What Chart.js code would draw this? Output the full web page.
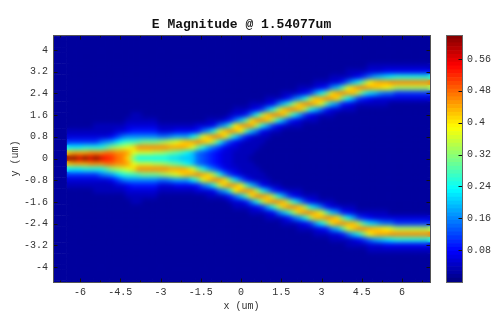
<!DOCTYPE html>
<html>
<head>
<meta charset="utf-8">
<script src="https://cdn.jsdelivr.net/npm/chart.js@4/dist/chart.umd.js"></script>
<style>
  body { margin: 0; background: #fff; }
  canvas { position: absolute; left: 0; top: 0; }
</style>
</head>
<body>
<canvas id="field-chart" width="500" height="326"></canvas>
<canvas id="colorbar-chart" width="500" height="326"></canvas>
<script>
// values
const xCells = [];   // um, one per column of magnitudeRows
for (let i = 0; i <= 70; i++) xCells.push(Math.round((-7 + i * 0.2) * 10) / 10);
const yCells = [];   // um, one per row of magnitudeRows
for (let i = 0; i <= 46; i++) yCells.push(Math.round((4.6 - i * 0.2) * 10) / 10);

// |E| per cell, one base-36 digit per column, in steps of levelStep
const levelStep = 0.62 / 35;
const magnitudeRows = [
  '1111111111 1111111111 1111111111 1111111111 1111111111 1111111111 11111111111',
  '1111111111 1111111111 1111111111 1111111111 1111111111 1111111111 11111111111',
  '1111111111 1111111111 1111111111 1111111111 1111111111 1111111111 11111111111',
  '1111111111 1111111111 1111111111 1111111111 1111111111 1111111111 11111111111',
  '1111111111 1111111111 1111111111 1111111111 1111111111 1111111111 11111111111',
  '1111111111 1111111111 1111111111 1111111111 1111111111 1111111111 11111111111',
  '1111111111 1111111111 1111111111 1111111111 1111111111 1111111112 22222222222',
  '1111111111 1111111111 1111111111 1111111111 1111111111 1111122223 33444444444',
  '1111111111 1111111111 1111111111 1111111111 1111111111 1122223468 abcdeeeeeee',
  '1111111111 1111111111 1111111111 1111111111 1111111112 223358beim oppqqqqqqqq',
  '1111111111 1111111111 1111111111 1111111111 1111112223 459bgloqqp onmljjjjjjj',
  '1111111111 1111111111 1111111111 1111111111 111222346a dhnpqpojfc b9886666666',
  '1111111111 1111111111 1111111111 1111111111 222358aejo pqpnhda654 33333333333',
  '1111111111 1111111111 1111111111 1111111222 348bfjoqqo lgb9543222 22211111111',
  '1111111111 1111111111 1111111111 1111222346 aejoqqojeb 8533222111 11111111111',
  '1111111111 1111122111 1111111111 11123359ej oqqoiea643 2221111111 11111111111',
  '1111111111 1111222222 1111111112 22358bgnqq ojea643222 1111111111 11111111111',
  '1111111122 2222333333 2222222333 48afmpqpje a643222111 1111111111 11111111111',
  '1112222222 2233455555 333444458a ekoqpmgb84 3221111111 1111111111 11111111111',
  '1113333333 3468999999 889aaadglo qqnhc85322 2111111111 1111111111 11111111111',
  '1116666668 9aceffghhh ijklnopqpn je96432222 1111111111 1111111111 11111111111',
  '111dddeeee gijklnqqqq qqpppolhea 8643322221 1111111111 1111111111 11111111111',
  '111opppqqq rrqqplkkkj jihgfdb876 5433222211 1111111111 1111111111 11111111111',
  '111yzwzwzw utrqnhdddd ddccbbb876 5433222111 1111111111 1111111111 11111111111',
  '111opppqqq rrqqplkkkj jihgfdb876 5433222211 1111111111 1111111111 11111111111',
  '111dddeeee gijklnqqqq qqpppolhea 8643322221 1111111111 1111111111 11111111111',
  '1116666668 9aceffghhh ijklnopqpn je96432222 1111111111 1111111111 11111111111',
  '1113333333 3468999999 889aaadglo qqnhc85322 2111111111 1111111111 11111111111',
  '1112222222 2233455555 333444458a ekoqpmgb84 3221111111 1111111111 11111111111',
  '1111111122 2222333333 2222222333 48afmpqpje a643222111 1111111111 11111111111',
  '1111111111 1111222222 1111111112 22358bgnqq ojea643222 1111111111 11111111111',
  '1111111111 1111122111 1111111111 11123359ej oqqoiea643 2221111111 11111111111',
  '1111111111 1111111111 1111111111 1111222346 aejoqqojeb 8533222111 11111111111',
  '1111111111 1111111111 1111111111 1111111222 348bfjoqqo lgb9543222 22211111111',
  '1111111111 1111111111 1111111111 1111111111 222358aejo pqpnhda654 33333333333',
  '1111111111 1111111111 1111111111 1111111111 111222346a dhnpqpojfc b9886666666',
  '1111111111 1111111111 1111111111 1111111111 1111112223 459bgloqqp onmljjjjjjj',
  '1111111111 1111111111 1111111111 1111111111 1111111112 223358beim oppqqqqqqqq',
  '1111111111 1111111111 1111111111 1111111111 1111111111 1122223468 abcdeeeeeee',
  '1111111111 1111111111 1111111111 1111111111 1111111111 1111122223 33444444444',
  '1111111111 1111111111 1111111111 1111111111 1111111111 1111111112 22222222222',
  '1111111111 1111111111 1111111111 1111111111 1111111111 1111111111 11111111111',
  '1111111111 1111111111 1111111111 1111111111 1111111111 1111111111 11111111111',
  '1111111111 1111111111 1111111111 1111111111 1111111111 1111111111 11111111111',
  '1111111111 1111111111 1111111111 1111111111 1111111111 1111111111 11111111111',
  '1111111111 1111111111 1111111111 1111111111 1111111111 1111111111 11111111111',
  '1111111111 1111111111 1111111111 1111111111 1111111111 1111111111 11111111111'
];

const xMajorTicks = [-6, -4.5, -3, -1.5, 0, 1.5, 3, 4.5, 6];
const xMinorTicks = [-6.75, -5.25, -3.75, -2.25, -0.75, 0.75, 2.25, 3.75, 5.25, 6.75];
const yTicks = [-4, -3.2, -2.4, -1.6, -0.8, 0, 0.8, 1.6, 2.4, 3.2, 4];
const colorbarTicks = [0.08, 0.16, 0.24, 0.32, 0.4, 0.48, 0.56];

const monoFont = '"Liberation Mono", monospace';
const inkColor = '#333';
const frameColor = '#555';

Chart.defaults.animation = false;
Chart.defaults.events = [];

// matlab jet, 0..0.62
function jet(v) {
  const t = Math.min(1, Math.max(0, v / 0.62));
  const c = (k) => Math.round(255 * Math.min(1, Math.max(0, 1.5 - Math.abs(4 * t - k))));
  return `rgb(${c(3)},${c(2)},${c(1)})`;
}

// build the cells
const fieldCells = [];
const stripCells = [];   // left of x = -6.5 there is no field, edge stays sharp
magnitudeRows.forEach((row, r) => {
  const digits = row.replace(/ /g, '');
  xCells.forEach((x, c) => {
    const cell = { x: x, y: yCells[r], v: parseInt(digits[c] || '1', 36) * levelStep };
    (x < -6.5 ? stripCells : fieldCells).push(cell);
  });
});

function cellDataset(label, cells, order) {
  return {
    label: label,
    data: cells,
    order: order,
    showLine: false,
    pointStyle: 'rect',
    pointRadius: 4.2,
    pointBorderWidth: 0,
    pointBackgroundColor: cells.map(c => jet(c.v))
  };
}

// smooth the blocks of the field, like the interpolated original
const smoothField = {
  id: 'smoothField',
  afterDatasetDraw(chart, args) {
    if (args.index !== 0) return;
    const a = chart.chartArea;
    const ctx = chart.ctx;
    ctx.save();
    ctx.beginPath();
    ctx.rect(a.left, a.top, a.width, a.height);
    ctx.clip();
    ctx.filter = 'blur(2.6px)';
    ctx.drawImage(chart.canvas, 0, 0);
    ctx.restore();
  }
};

function tickMark(ctx, x0, y0, x1, y1) {
  ctx.moveTo(x0 + 0.5, y0 + 0.5);
  ctx.lineTo(x1 + 0.5, y1 + 0.5);
}

// inward ticks on all four sides and the box
const fieldFrame = {
  id: 'fieldFrame',
  afterDraw(chart) {
    const { ctx, chartArea: a, scales } = chart;
    const l = Math.round(a.left), r = Math.round(a.right), t = Math.round(a.top), b = Math.round(a.bottom);
    ctx.save();
    ctx.strokeStyle = '#111';
    ctx.lineWidth = 1;
    ctx.beginPath();
    xMajorTicks.forEach(v => {
      const x = Math.round(scales.x.getPixelForValue(v));
      tickMark(ctx, x, b, x, b - 4);
      tickMark(ctx, x, t, x, t + 4);
    });
    xMinorTicks.forEach(v => {
      const x = Math.round(scales.x.getPixelForValue(v));
      tickMark(ctx, x, b, x, b - 2);
      tickMark(ctx, x, t, x, t + 2);
    });
    yTicks.forEach(v => {
      const y = Math.round(scales.y.getPixelForValue(v));
      tickMark(ctx, l, y, l + 4, y);
      tickMark(ctx, r, y, r - 4, y);
    });
    ctx.stroke();
    ctx.strokeStyle = frameColor;
    ctx.strokeRect(l + 0.5, t + 0.5, r - l, b - t);
    ctx.restore();
  }
};

new Chart(document.getElementById('field-chart').getContext('2d'), {
  type: 'scatter',
  data: {
    datasets: [
      cellDataset('E magnitude', fieldCells, 2),
      cellDataset('no field', stripCells, 1)
    ]
  },
  plugins: [smoothField, fieldFrame],
  options: {
    responsive: false,
    layout: { padding: { right: 70 } },
    plugins: {
      legend: { display: false },
      tooltip: { enabled: false },
      title: {
        display: true,
        fullSize: false,
        text: 'E Magnitude @ 1.54077um',
        color: '#111',
        font: { family: monoFont, size: 13, weight: 'bold', lineHeight: 1.2 },
        padding: { top: 17, bottom: 2.4 }
      }
    },
    scales: {
      x: {
        type: 'linear',
        min: -7.006,
        max: 7.04,
        afterBuildTicks(scale) { scale.ticks = xMajorTicks.map(v => ({ value: v })); },
        afterFit(scale) { scale.height = 44; },
        grid: { display: false, drawTicks: false },
        border: { display: false },
        ticks: {
          autoSkip: false, maxRotation: 0, padding: 4, color: inkColor,
          font: { family: monoFont, size: 10 },
          callback: v => String(v)
        },
        title: {
          display: true, text: 'x (um)', color: inkColor,
          font: { family: monoFont, size: 10, lineHeight: 1.2 },
          padding: { top: 0, bottom: 14 }
        }
      },
      y: {
        type: 'linear',
        min: -4.553,
        max: 4.553,
        afterBuildTicks(scale) { scale.ticks = yTicks.map(v => ({ value: v })); },
        afterFit(scale) { scale.width = 53; },
        grid: { display: false, drawTicks: false },
        border: { display: false },
        ticks: {
          autoSkip: false, padding: 5, color: inkColor,
          font: { family: monoFont, size: 10 },
          callback: v => String(v)
        },
        title: {
          display: true, text: 'y (um)', color: inkColor,
          font: { family: monoFont, size: 10, lineHeight: 1.2 },
          padding: { top: 9, bottom: 0 }
        }
      }
    }
  }
});

// colorbar
const colorLevels = 64;
const colorbarSets = [];
for (let i = 0; i < colorLevels; i++) {
  const lo = i * 0.62 / colorLevels;
  const hi = (i + 1) * 0.62 / colorLevels;
  colorbarSets.push({
    data: [[lo, hi]],
    backgroundColor: jet((lo + hi) / 2),
    borderWidth: 0,
    grouped: false,
    barPercentage: 1,
    categoryPercentage: 1
  });
}

const colorbarFrame = {
  id: 'colorbarFrame',
  afterDraw(chart) {
    const { ctx, chartArea: a, scales } = chart;
    const l = Math.round(a.left), r = Math.round(a.right), t = Math.round(a.top), b = Math.round(a.bottom);
    ctx.save();
    ctx.strokeStyle = '#111';
    ctx.beginPath();
    colorbarTicks.forEach(v => {
      const y = Math.round(scales.y.getPixelForValue(v));
      tickMark(ctx, r, y, r - 4, y);
    });
    ctx.stroke();
    ctx.strokeStyle = '#666';
    ctx.strokeRect(l + 0.5, t + 0.5, r - l, b - t);
    ctx.restore();
  }
};

new Chart(document.getElementById('colorbar-chart').getContext('2d'), {
  type: 'bar',
  data: { labels: [''], datasets: colorbarSets },
  plugins: [colorbarFrame],
  options: {
    responsive: false,
    layout: { padding: { left: 446, top: 35, bottom: 44 } },
    plugins: { legend: { display: false }, tooltip: { enabled: false } },
    scales: {
      x: { display: false },
      y: {
        position: 'right',
        min: 0,
        max: 0.62,
        afterBuildTicks(scale) { scale.ticks = colorbarTicks.map(v => ({ value: v })); },
        afterFit(scale) { scale.width = 38; },
        grid: { display: false, drawTicks: false },
        border: { display: false },
        ticks: {
          autoSkip: false, padding: 5, color: inkColor,
          font: { family: monoFont, size: 10 },
          callback: v => String(v)
        }
      }
    }
  }
});
</script>
</body>
</html>
